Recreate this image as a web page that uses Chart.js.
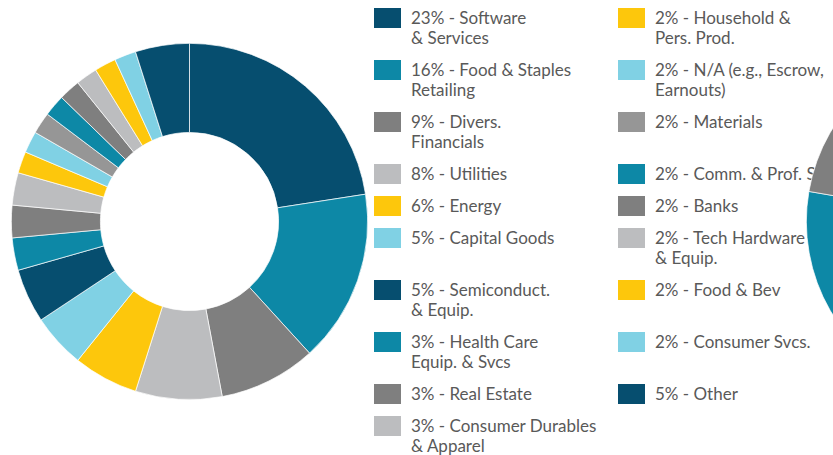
<!DOCTYPE html>
<html>
<head>
<meta charset="utf-8">
<script src="https://cdn.jsdelivr.net/npm/chart.js@4/dist/chart.umd.min.js"></script>
<style>
  html, body { margin: 0; padding: 0; background: #fff; }
  body { width: 833px; height: 455px; position: relative; overflow: hidden; }
  #mainWrap { position: absolute; left: 11px; top: 43px; width: 357px; height: 357px; }
  #sideWrap { position: absolute; left: 806px; top: 43px; width: 357px; height: 357px; z-index: 2; }
  #legend {
    position: absolute; left: 374px; top: 8px; z-index: 1;
    display: grid; grid-template-columns: 244px 244px;
    grid-template-rows: repeat(10, auto); grid-auto-flow: column;
    row-gap: 12px;
    font-family: Lato, "Open Sans", sans-serif; font-size: 17px; line-height: 20px; color: #595959;
  }
  .item { display: flex; align-items: flex-start; }
  .sw { width: 27px; height: 20px; margin-right: 10px; flex: none; }
  .txt { white-space: pre; }
</style>
</head>
<body>
<div id="mainWrap"><canvas id="mainChart"></canvas></div>
<div id="legend"></div>
<div id="sideWrap"><canvas id="sideChart"></canvas></div>
<script>
const NAVY = "#064e6f", TEAL = "#0d88a6", GRAY = "#7f7f7f", LGRAY = "#bcbdbf",
      YELLOW = "#fdc70c", LBLUE = "#80d1e4", MGRAY = "#969696";

const sectors = [
  "Software\n& Services", "Food & Staples\nRetailing", "Divers.\nFinancials", "Utilities",
  "Energy", "Capital Goods", "Semiconduct.\n& Equip.", "Health Care\nEquip. & Svcs",
  "Real Estate", "Consumer Durables\n& Apparel", "Household &\nPers. Prod.",
  "N/A (e.g., Escrow,\nEarnouts)", "Materials", "Comm. & Prof. Svcs", "Banks",
  "Tech Hardware\n& Equip.", "Food & Bev", "Consumer Svcs.", "Other"
];
const shares = [23, 16, 9, 8, 6, 5, 5, 3, 3, 3, 2, 2, 2, 2, 2, 2, 2, 2, 5];
const colors = [NAVY, TEAL, GRAY, LGRAY, YELLOW, LBLUE, NAVY, TEAL, GRAY, LGRAY,
                YELLOW, LBLUE, MGRAY, TEAL, GRAY, LGRAY, YELLOW, LBLUE, NAVY];

// second doughnut, only its left edge shows at the right of the picture
const sideShares = [55.6, 22.1, 11.2, 11.1];
const sideColors = [NAVY, TEAL, GRAY, LGRAY];

const labels = sectors.map((s, i) => shares[i] + "% - " + s);

const legendEl = document.getElementById("legend");
labels.forEach((lab, i) => {
  const item = document.createElement("div");
  item.className = "item";
  item.innerHTML = '<span class="sw" style="background:' + colors[i] + '"></span>';
  const t = document.createElement("span");
  t.className = "txt";
  t.textContent = lab;
  item.appendChild(t);
  legendEl.appendChild(item);
});

function donut(id, data, cols) {
  return new Chart(document.getElementById(id), {
    type: "doughnut",
    data: {
      labels: data.map((_, i) => String(i)),
      datasets: [{ data: data, backgroundColor: cols, borderColor: "#ffffff", borderWidth: 0.7 }]
    },
    options: {
      responsive: true,
      maintainAspectRatio: false,
      animation: false,
      cutout: "50%",
      layout: { padding: 0 },
      plugins: { legend: { display: false }, tooltip: { enabled: false } }
    }
  });
}

donut("mainChart", shares, colors);
donut("sideChart", sideShares, sideColors);
</script>
</body>
</html>
